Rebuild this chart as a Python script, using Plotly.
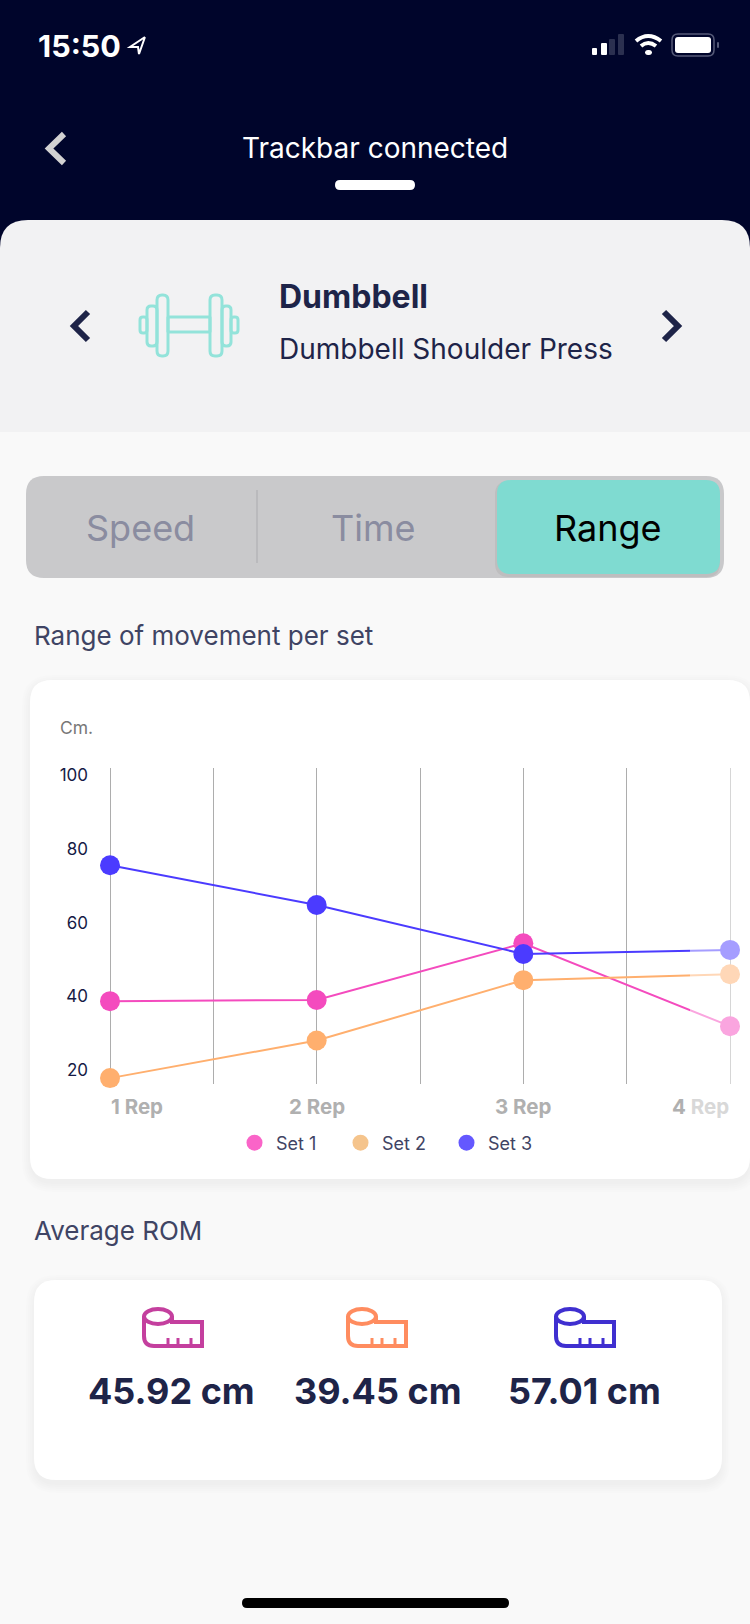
# Range of movement screen, drawn on a 750x1624 page
import plotly.graph_objects as go

# =========================
# DATA
# =========================
reps = [1, 2, 3, 4]
rep_labels = ["1 Rep", "2 Rep", "3 Rep", "4 <span style='color:#D8D8D8'>Rep</span>"]
set_names = ["Set 1", "Set 2", "Set 3"]
set_1 = [38.7, 39.0, 54.4, 31.9]
set_2 = [17.8, 28.0, 44.4, 46.0]
set_3 = [75.6, 64.8, 51.5, 52.6]
y_ticks = [20, 40, 60, 80, 100]
x_grid = [1, 1.5, 2, 2.5, 3, 3.5, 4]
avg_rom = ["45.92 cm", "39.45 cm", "57.01 cm"]

line_colors = ["#F44BBE", "#FFAF6E", "#4B3BFF"]
legend_colors = ["#FA64C8", "#F5C48C", "#6458FF"]
tape_colors = ["#C43F9E", "#FF8C5F", "#3F2FD0"]

W, H = 750, 1624
NAVY = "#00052B"
INK = "#1E2448"
FONT = "Inter"


def px(x):
    return x / W


def py(y):
    return 1 - y / H


def pt(x, y):
    return f"{px(x):.5f},{py(y):.5f}"


# =========================
# SHAPE HELPERS
# =========================
def round_path(x0, y0, x1, y1, r, top_only=False):
    rb = 0 if top_only else r
    return (
        f"M{pt(x0 + r, y0)} L{pt(x1 - r, y0)} Q{pt(x1, y0)} {pt(x1, y0 + r)} "
        f"L{pt(x1, y1 - rb)} Q{pt(x1, y1)} {pt(x1 - rb, y1)} "
        f"L{pt(x0 + rb, y1)} Q{pt(x0, y1)} {pt(x0, y1 - rb)} "
        f"L{pt(x0, y0 + r)} Q{pt(x0, y0)} {pt(x0 + r, y0)} Z"
    )


def fill_box(x0, y0, x1, y1, r, color, opacity=1, top_only=False):
    return dict(type="path", xref="paper", yref="paper", path=round_path(x0, y0, x1, y1, r, top_only),
                fillcolor=color, opacity=opacity, line=dict(width=0), layer="below")


def line_box(x0, y0, x1, y1, r, color, width):
    return dict(type="path", xref="paper", yref="paper", path=round_path(x0, y0, x1, y1, r),
                line=dict(color=color, width=width), layer="below")


def stroke(points, color, width, opacity=1):
    d = "M" + " L".join(pt(x, y) for x, y in points)
    return dict(type="path", xref="paper", yref="paper", path=d, opacity=opacity,
                line=dict(color=color, width=width), layer="below")


def stroke_path(d, color, width):
    return dict(type="path", xref="paper", yref="paper", path=d,
                line=dict(color=color, width=width), layer="below")


def ellipse(x0, y0, x1, y1, color, width):
    return dict(type="circle", xref="paper", yref="paper", x0=px(x0), x1=px(x1), y0=py(y1), y1=py(y0),
                line=dict(color=color, width=width), layer="below")


def soft_shadow(x0, y0, x1, y1, r):
    # stacked faint boxes stand in for a blurred drop shadow
    return [fill_box(x0 - g, y0 + 3 - g, x1 + g, y1 + 5 + g, r + g, "#000000", opacity=0.006)
            for g in [8, 6, 4, 2, 0]]


def tape_icon(x0, color):
    # roll at the top left, tape running to the right
    y0 = 1307
    return [
        ellipse(x0 + 1, y0 + 2, x0 + 29, y0 + 17, color, 4),
        stroke_path(
            f"M{pt(x0 + 29, y0 + 9)} L{pt(x0 + 29, y0 + 15)} L{pt(x0 + 59, y0 + 15)} L{pt(x0 + 59, y0 + 39)} "
            f"L{pt(x0 + 11, y0 + 39)} Q{pt(x0 + 1, y0 + 39)} {pt(x0 + 1, y0 + 29)} L{pt(x0 + 1, y0 + 9)}",
            color, 4),
        stroke([(x0 + 25, y0 + 39), (x0 + 25, y0 + 31)], color, 3),
        stroke([(x0 + 35, y0 + 39), (x0 + 35, y0 + 31)], color, 3),
        stroke([(x0 + 48, y0 + 39), (x0 + 48, y0 + 31)], color, 3),
    ]


def dumbbell_icon():
    teal = "#93E3DA"
    boxes = [
        (140, 317, 147, 333, 3), (147, 306, 157, 346, 4), (157, 295, 168, 356, 5),
        (168, 317, 210, 332, 0.5),
        (210, 295, 222, 356, 5), (222, 306, 231, 346, 4), (231, 317, 238, 333, 3),
    ]
    return [line_box(*b[:4], b[4], teal, 3) for b in boxes]


def note(x, y, text, size, color, anchor="left", bold=False):
    return dict(x=px(x), y=py(y), xref="paper", yref="paper", xanchor=anchor, yanchor="middle",
                text=f"<b>{text}</b>" if bold else text, showarrow=False, borderpad=0,
                xshift=-2 if anchor == "left" else 0,
                font=dict(family=FONT, size=size, color=color))


# =========================
# PAGE CHROME
# =========================
shapes = [
    dict(type="rect", xref="paper", yref="paper", x0=0, x1=1, y0=py(250), y1=1, fillcolor=NAVY,
         line=dict(width=0), layer="below"),
    fill_box(0, 220, 750, 432, 28, "#F2F2F3", top_only=True),
    # status bar
    fill_box(592, 48, 597, 55, 1, "#FFFFFF"),
    fill_box(601, 43, 607, 55, 1, "#FFFFFF"),
    fill_box(609, 39, 615, 55, 1, "#2B3050"),
    fill_box(618, 34, 624, 55, 1, "#2B3050"),
    stroke_path(f"M{pt(636, 41)} Q{pt(648, 31)} {pt(661, 41)}", "#FFFFFF", 4),
    stroke_path(f"M{pt(641, 46)} Q{pt(648, 40)} {pt(656, 46)}", "#FFFFFF", 4),
    fill_box(645, 50, 652, 55, 3, "#FFFFFF"),
    line_box(672, 34, 714, 56, 6, "#555A78", 1.5),
    fill_box(675, 37, 711, 53, 3, "#FFFFFF"),
    fill_box(717, 42, 719, 48, 1, "#555A78"),
    stroke([(145, 37), (130, 47), (138, 47), (139, 54), (145, 37)], "#FFFFFF", 2),
    # nav
    stroke([(64, 134), (49, 148.5), (64, 163)], "#D2D2D2", 6),
    fill_box(335, 180, 415, 190, 5, "#FFFFFF"),
    stroke([(88, 312), (74, 326), (88, 340)], INK, 6),
    stroke([(664, 312), (678, 326), (664, 340)], INK, 6),
    # segment control
    fill_box(26, 476, 724, 578, 18, "#C9C9CB"),
    fill_box(495, 481, 720, 577, 14, "#A8A8AA", opacity=0.35),
    fill_box(497, 480, 720, 574, 14, "#7FDBD1"),
    stroke([(257, 490), (257, 563)], "#B4B4B8", 1.5),
]
# chart card
shapes += soft_shadow(30, 680, 750, 1179, 22)
shapes.append(fill_box(30, 680, 750, 1179, 22, "#FFFFFF"))
# average card
shapes += soft_shadow(34, 1280, 722, 1480, 22)
shapes.append(fill_box(34, 1280, 722, 1480, 22, "#FFFFFF"))
shapes += [
    # home indicator
    fill_box(242, 1598, 509, 1608, 5, "#000000"),
    # fade over the right edge of the chart
    dict(type="rect", xref="paper", yref="paper", x0=px(690), x1=px(745), y0=py(1125), y1=py(760),
         fillcolor="#FFFFFF", opacity=0.5, line=dict(width=0), layer="above"),
]
shapes += dumbbell_icon()
for x0, color in zip([143, 347, 555], tape_colors):
    shapes += tape_icon(x0, color)

annotations = [
    note(39, 45, "15:50", 30.5, "#FFFFFF", bold=True),
    note(375, 148, "Trackbar connected", 28, "#FFFFFF", "center"),
    note(280, 296, "Dumbbell", 32, INK, bold=True),
    note(280, 349, "Dumbbell Shoulder Press", 28, INK),
    note(140, 528, "Speed", 36, "#8A8CA0", "center"),
    note(373, 528, "Time", 36, "#8A8CA0", "center"),
    note(608, 528, "Range", 36, "#000000", "center"),
    note(35, 635, "Range of movement per set", 26, "#3F4464"),
    note(61, 727, "Cm.", 17.5, "#777777"),
    note(35, 1230, "Average ROM", 26, "#3F4464"),
]
for x_pos, val in zip([171, 378, 584], avg_rom):
    annotations.append(note(x_pos, 1391, val, 36, INK, "center", bold=True))

# rep labels sit under the axis, the outer two pulled inside the plot
for rep, label, anchor in zip(reps, rep_labels, ["left", "center", "center", "right"]):
    annotations.append(dict(x=rep, y=py(1106), xref="x", yref="paper", xanchor=anchor, yanchor="middle",
                            text=f"<b>{label}</b>", showarrow=False, borderpad=0,
                            font=dict(family=FONT, size=20.5, color="#B0B0B0")))

# =========================
# CHART
# =========================
fig = go.Figure()
for name, vals, color in zip(set_names, [set_1, set_2, set_3], line_colors):
    fig.add_trace(go.Scatter(
        x=reps, y=vals, mode="lines+markers", name=name, showlegend=False, cliponaxis=False,
        line=dict(color=color, width=2),
        marker=dict(color=color, size=20),
    ))

# legend entries carry the paler legend colours
for name, color in zip(set_names, legend_colors):
    fig.add_trace(go.Scatter(x=[None], y=[None], mode="markers", name=name,
                             marker=dict(color=color, size=18)))

fig.update_layout(
    width=W, height=H,
    margin=dict(l=0, r=0, t=0, b=0, autoexpand=False),
    paper_bgcolor="#F9F9F9",
    plot_bgcolor="rgba(0,0,0,0)",
    font=dict(family=FONT),
    shapes=shapes,
    annotations=annotations,
    # axis runs 3px past the outer reps so the grid keeps its end lines
    xaxis=dict(domain=[px(107), px(733)], range=[0.9855, 4.0145], tickvals=x_grid, showticklabels=False,
               showgrid=True, gridcolor="#ADADAD", gridwidth=1, zeroline=False, showline=False, ticks=""),
    yaxis=dict(domain=[py(1084), py(768)], range=[16.2, 102], tickvals=y_ticks, showgrid=False,
               zeroline=False, showline=False, ticks="", ticklabelstandoff=18,
               tickfont=dict(family=FONT, size=17, color="#151A45")),
    legend=dict(orientation="h", x=px(233), y=py(1143), xanchor="left", yanchor="middle",
                bgcolor="rgba(0,0,0,0)", entrywidth=58, entrywidthmode="pixels", itemwidth=33,
                font=dict(family=FONT, size=18, color="#3F4464")),
)

fig.write_html("out.html", config=dict(displayModeBar=False),
               post_script="document.body.style.margin='0';document.body.style.overflow='hidden';")
